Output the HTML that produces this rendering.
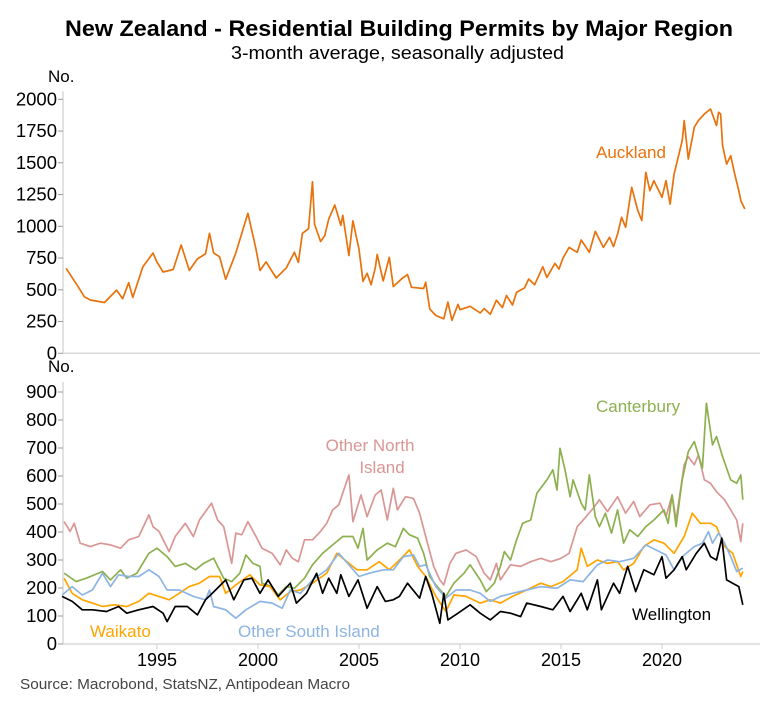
<!DOCTYPE html>
<html><head><meta charset="utf-8"><style>
body{margin:0;background:#fff;font-family:"Liberation Sans",Arial,sans-serif}
svg text{font-family:"Liberation Sans",Arial,sans-serif}
</style></head><body>
<svg id="c" width="770" height="700" viewBox="0 0 770 700" xmlns="http://www.w3.org/2000/svg">
<text x="65" y="36" textLength="668" lengthAdjust="spacingAndGlyphs" font-size="22" font-weight="bold" fill="#000">New Zealand - Residential Building Permits by Major Region</text>
<text x="231" y="59" textLength="333" lengthAdjust="spacingAndGlyphs" font-size="18" fill="#000">3-month average, seasonally adjusted</text>
<text x="48" y="82" font-size="17" fill="#000">No.</text>
<text x="48" y="372" font-size="17" fill="#000">No.</text>
<g id="axes"></g>
<g id="lines"></g>
<text x="596" y="158" font-size="17" fill="#e8720c">Auckland</text>
<text x="596" y="412" font-size="17" fill="#8db04f">Canterbury</text>
<text x="370" y="451" text-anchor="middle" font-size="17" fill="#d99694">Other North</text>
<text x="382" y="473" text-anchor="middle" font-size="17" fill="#d99694">Island</text>
<text x="90" y="637" font-size="17" fill="#ffa500">Waikato</text>
<text x="238" y="637" font-size="17" fill="#8db4e2">Other South Island</text>
<text x="632" y="620" font-size="17" fill="#000">Wellington</text>
<text x="20" y="689" textLength="330" lengthAdjust="spacingAndGlyphs" font-size="15" fill="#444">Source: Macrobond, StatsNZ, Antipodean Macro</text>
</svg>
<script>
const topTicks=[0,250,500,750,1000,1250,1500,1750,2000];
const botTicks=[0,100,200,300,400,500,600,700,800,900];
const yearTicks=[1995,2000,2005,2010,2015,2020];
const aklDates=[1990.5,1991.1,1991.4,1991.7,1992.4,1993.0,1993.3,1993.6,1993.8,1994.3,1994.8,1995.0,1995.3,1995.8,1996.2,1996.6,1997.0,1997.4,1997.6,1997.8,1998.1,1998.4,1998.9,1999.2,1999.5,1999.9,2000.1,2000.4,2000.9,2001.4,2001.8,2002.0,2002.2,2002.5,2002.7,2002.8,2003.1,2003.3,2003.5,2003.8,2004.1,2004.2,2004.5,2004.7,2005.0,2005.2,2005.4,2005.6,2005.8,2005.9,2006.2,2006.5,2006.7,2007.1,2007.4,2007.6,2008.2,2008.3,2008.5,2008.8,2009.2,2009.4,2009.6,2009.9,2010.0,2010.5,2011.0,2011.2,2011.5,2011.8,2012.1,2012.3,2012.6,2012.8,2013.2,2013.4,2013.7,2014.1,2014.3,2014.7,2014.9,2015.1,2015.4,2015.8,2016.0,2016.4,2016.7,2017.1,2017.4,2017.6,2017.8,2018.0,2018.2,2018.5,2018.8,2019.0,2019.2,2019.4,2019.6,2020.0,2020.2,2020.4,2020.6,2021.0,2021.1,2021.3,2021.6,2021.8,2022.1,2022.4,2022.7,2022.8,2022.9,2023.0,2023.2,2023.4,2023.6,2023.8,2023.9,2024.1];
const aklVals=[669,524,446,420,400,498,430,556,440,682,790,718,640,660,853,653,743,783,945,790,760,583,790,946,1102,820,652,720,593,673,795,716,945,980,1351,1015,880,925,1056,1168,1008,1087,770,1043,820,566,630,540,670,778,570,755,525,585,620,520,510,560,350,298,272,403,260,385,343,370,318,352,308,417,360,455,380,480,515,585,540,682,598,708,663,750,834,795,892,795,960,834,913,840,940,1071,992,1307,1124,1045,1425,1280,1359,1228,1359,1175,1412,1674,1832,1530,1780,1832,1884,1924,1793,1898,1884,1635,1490,1556,1412,1280,1202,1136];
const oniDates=[1990.4,1990.7,1990.9,1991.2,1991.7,1992.2,1992.7,1993.2,1993.6,1994.1,1994.6,1994.8,1995.1,1995.6,1995.9,1996.4,1996.8,1997.1,1997.7,1998.0,1998.3,1998.7,1998.9,1999.2,1999.5,1999.9,2000.2,2000.7,2001.1,2001.4,2001.7,2002.0,2002.3,2002.7,2003.1,2003.4,2003.7,2004.0,2004.5,2004.7,2005.1,2005.4,2005.8,2006.1,2006.4,2006.7,2006.9,2007.3,2007.7,2008.0,2008.3,2008.7,2009.0,2009.2,2009.5,2009.8,2010.3,2010.8,2011.2,2011.5,2011.8,2012.0,2012.5,2013.0,2013.5,2014.0,2014.5,2015.0,2015.4,2015.8,2016.1,2016.6,2016.9,2017.3,2017.8,2018.2,2018.6,2018.9,2019.4,2019.9,2020.2,2020.5,2020.7,2021.1,2021.3,2021.6,2021.8,2022.1,2022.4,2022.7,2023.1,2023.4,2023.7,2023.9,2024.0];
const oniVals=[437,402,431,360,348,360,354,342,372,384,461,419,402,330,384,431,384,443,503,443,419,288,396,390,437,384,342,324,283,336,306,294,372,372,402,431,479,497,604,437,532,455,532,550,443,556,479,526,520,467,384,277,229,211,288,324,336,312,253,229,288,229,283,277,294,306,294,306,324,419,443,485,515,473,526,467,509,455,497,503,455,532,443,640,669,640,675,586,574,544,515,479,443,366,431];
const canDates=[1990.4,1991.0,1991.5,1992.3,1992.7,1993.2,1993.5,1994.0,1994.6,1995.0,1995.5,1995.9,1996.4,1996.9,1997.3,1997.8,1998.3,1998.7,1999.1,1999.4,1999.75,2000.1,2000.2,2000.7,2001.0,2001.4,2001.8,2002.3,2002.7,2003.2,2003.7,2004.2,2004.7,2004.95,2005.2,2005.4,2005.9,2006.4,2006.8,2007.2,2007.5,2007.9,2008.2,2008.5,2008.8,2009.3,2009.7,2010.2,2010.5,2011.0,2011.3,2011.7,2012.0,2012.2,2012.5,2012.8,2013.1,2013.5,2013.8,2014.3,2014.6,2014.8,2014.95,2015.2,2015.45,2015.6,2016.0,2016.2,2016.4,2016.7,2016.9,2017.2,2017.5,2017.8,2018.1,2018.4,2018.8,2019.2,2019.6,2020.1,2020.3,2020.5,2020.7,2021.0,2021.3,2021.6,2022.0,2022.2,2022.5,2022.7,2023.0,2023.4,2023.7,2023.9,2024.0];
const canVals=[253,223,235,259,229,265,235,253,324,342,312,277,288,265,288,306,235,223,253,318,288,277,217,205,175,205,199,235,283,324,354,384,384,342,413,300,336,360,348,413,390,378,324,241,211,170,217,253,283,229,187,217,277,330,300,372,431,443,538,586,622,550,699,622,526,586,503,479,604,455,419,467,396,479,360,408,384,419,443,479,431,532,419,586,687,723,628,860,711,741,669,586,574,604,515];
const waiDates=[1990.4,1990.8,1991.3,1991.8,1992.3,1992.9,1993.5,1994.1,1994.6,1995.1,1995.6,1996.1,1996.6,1997.1,1997.6,1998.1,1998.4,1998.9,1999.6,2000.1,2000.6,2001.1,2001.6,2002.1,2002.7,2003.4,2003.9,2004.4,2004.9,2005.4,2006.0,2006.5,2007.0,2007.5,2007.9,2008.3,2008.8,2009.3,2009.7,2010.3,2011.0,2011.5,2012.0,2012.6,2013.3,2014.0,2014.5,2015.1,2015.8,2016.0,2016.3,2016.8,2017.3,2017.8,2018.1,2018.6,2019.1,2019.6,2020.1,2020.6,2021.1,2021.5,2021.9,2022.4,2022.7,2023.1,2023.5,2023.9,2024.0];
const waiVals=[235,181,158,146,134,140,134,152,181,170,158,181,205,217,241,241,181,211,247,211,205,158,187,193,217,253,324,294,265,265,294,265,300,336,277,241,170,116,175,170,146,158,146,170,193,217,205,223,265,342,277,300,288,294,265,288,348,372,360,324,384,467,431,431,419,348,324,241,259];
const osiDates=[1990.3,1990.8,1991.3,1991.8,1992.3,1992.7,1993.1,1993.6,1994.1,1994.6,1995.1,1995.5,1996.1,1996.8,1997.4,1997.6,1997.8,1998.4,1998.9,1999.4,2000.1,2000.7,2001.2,2001.6,2002.1,2002.7,2003.4,2004.0,2004.5,2005.0,2005.5,2006.2,2006.7,2007.2,2007.7,2008.0,2008.3,2008.8,2009.3,2009.8,2010.5,2011.0,2011.5,2012.0,2012.6,2013.3,2014.0,2014.8,2015.45,2016.1,2016.8,2017.3,2017.9,2018.6,2019.2,2019.7,2020.2,2020.6,2021.1,2021.6,2022.0,2022.3,2022.5,2022.8,2023.1,2023.4,2023.7,2024.0];
const osiVals=[175,205,175,193,253,205,247,241,241,265,241,193,193,170,158,193,134,122,92,122,152,146,128,193,181,229,265,324,283,241,253,265,265,312,318,277,283,205,164,193,193,181,152,170,181,193,205,199,229,223,283,300,294,306,354,336,318,265,318,348,360,401,360,396,360,312,259,271];
const welDates=[1990.3,1990.8,1991.3,1991.8,1992.5,1993.1,1993.5,1994.1,1994.8,1995.3,1995.5,1995.9,1996.5,1997.0,1997.4,1997.9,1998.4,1998.8,1999.3,1999.7,2000.1,2000.5,2001.0,2001.6,2001.9,2002.4,2002.9,2003.2,2003.5,2003.9,2004.1,2004.5,2004.95,2005.4,2005.9,2006.3,2006.7,2007.0,2007.4,2008.0,2008.3,2008.6,2009.0,2009.2,2009.4,2009.9,2010.5,2011.0,2011.5,2012.0,2012.5,2013.0,2013.3,2014.0,2014.6,2015.1,2015.45,2016.0,2016.3,2016.8,2017.0,2017.6,2017.9,2018.3,2018.7,2019.1,2019.6,2020.0,2020.2,2020.6,2021.0,2021.2,2021.7,2022.1,2022.4,2022.7,2022.96,2023.2,2023.5,2023.8,2024.0];
const welVals=[170,152,122,122,116,134,110,122,134,110,80,134,134,104,158,193,229,158,229,235,181,229,170,217,146,181,253,181,235,181,247,170,229,128,205,152,158,170,217,164,241,181,74,181,86,110,140,110,86,116,110,98,146,134,122,170,116,181,122,229,122,217,181,277,187,265,247,312,235,265,312,265,324,360,312,300,378,229,217,205,140];

const NS='http://www.w3.org/2000/svg';
const X0=63,X1=760;
function xs(yr){return 460+(yr-2010)*20.2;}
function yTop(v){return 353.3-v*0.127;}
function yBot(v){return 644-v*0.28;}
const axes=document.getElementById('axes');
const lines=document.getElementById('lines');
function mk(tag,attrs,parent){const e=document.createElementNS(NS,tag);for(const k in attrs)e.setAttribute(k,attrs[k]);parent.appendChild(e);return e;}

let a=mk('line',{x1:X0,y1:yTop(2000)-8,x2:X0,y2:yTop(0),stroke:'#d9d9d9','stroke-width':1.5},axes);


a=mk('line',{x1:X0,y1:yTop(0),x2:X1,y2:yTop(0),stroke:'#d9d9d9','stroke-width':1.5},axes);


topTicks.forEach(t=>{
  const y=yTop(t);
  const tk=mk('line',{x1:X0-5,y1:y,x2:X0,y2:y,stroke:'#999','stroke-width':1},axes);
  
  
  const tx=mk('text',{x:X0-6,y:y+6,'text-anchor':'end','font-size':18.5,fill:'#000'},axes);
  tx.textContent=t;
  
  
});
a=mk('line',{x1:X0,y1:yBot(900)-10,x2:X0,y2:yBot(0),stroke:'#d9d9d9','stroke-width':1.5},axes);


a=mk('line',{x1:X0,y1:yBot(0),x2:X1,y2:yBot(0),stroke:'#d9d9d9','stroke-width':1.5},axes);


botTicks.forEach(t=>{
  const y=yBot(t);
  const tk=mk('line',{x1:X0-5,y1:y,x2:X0,y2:y,stroke:'#999','stroke-width':1},axes);
  
  
  const tx=mk('text',{x:X0-6,y:y+6,'text-anchor':'end','font-size':18.5,fill:'#000'},axes);
  tx.textContent=t;
  
  
});
yearTicks.forEach(t=>{
  const x=xs(t);
  const tk=mk('line',{x1:x,y1:yBot(0),x2:x,y2:yBot(0)+5,stroke:'#ccc','stroke-width':1},axes);
  
  
  const tx=mk('text',{x:x,y:yBot(0)+22,'text-anchor':'middle','font-size':18,fill:'#000'},axes);
  tx.textContent=t;
  
  
});
function drawLine(dates,vals,yf,color,name){
  const d=dates.map((t,i)=>(i?'L':'M')+xs(t).toFixed(1)+' '+yf(vals[i]).toFixed(1)).join(' ');
  const p=mk('path',{d:d,fill:'none',stroke:color,'stroke-width':1.7,'stroke-linejoin':'round'},lines);
  
  
}
drawLine(aklDates,aklVals,yTop,'#e8720c','series-auckland');
drawLine(oniDates,oniVals,yBot,'#d99694','series-other-north-island');
drawLine(canDates,canVals,yBot,'#8db04f','series-canterbury');
drawLine(waiDates,waiVals,yBot,'#ffa500','series-waikato');
drawLine(osiDates,osiVals,yBot,'#8db4e2','series-other-south-island');
drawLine(welDates,welVals,yBot,'#000000','series-wellington');
</script>
</body></html>
